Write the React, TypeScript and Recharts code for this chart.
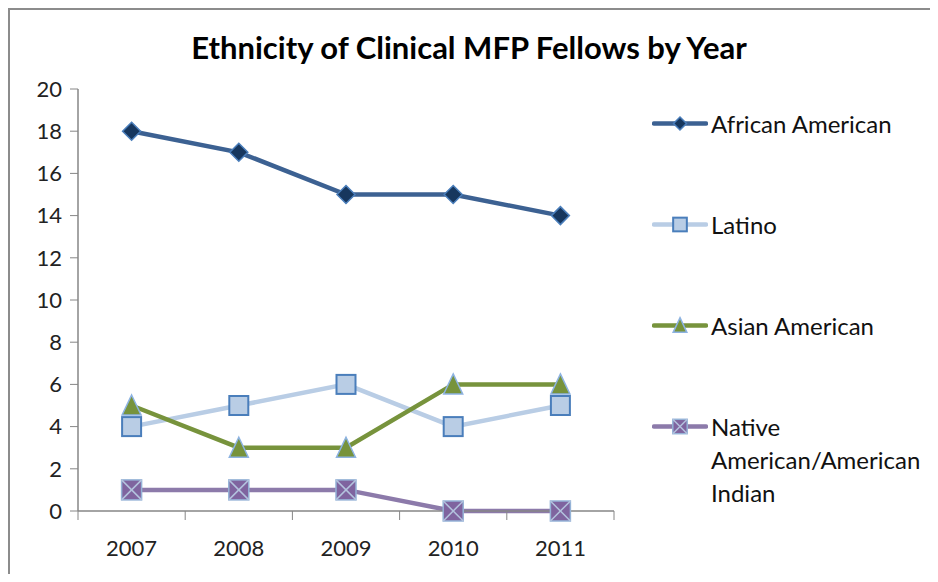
import React from 'react';
import { LineChart, Line, XAxis, YAxis, Legend } from 'recharts';

const years = ['2007', '2008', '2009', '2010', '2011'];
const africanAmerican = [18, 17, 15, 15, 14];
const latino = [4, 5, 6, 4, 5];
const asianAmerican = [5, 3, 3, 6, 6];
const nativeAmerican = [1, 1, 1, 0, 0];
const yTicks = [0, 2, 4, 6, 8, 10, 12, 14, 16, 18, 20];

const FONT = 'Lato, "Open Sans", sans-serif';
const AXIS = '#868686';

type MarkerKind = 'diamond' | 'square' | 'triangle' | 'xsquare';

const SERIES: { key: string; name: string; line: string; fill: string; edge: string; marker: MarkerKind }[] = [
  { key: 'aa', name: 'African American', line: '#3C6192', fill: '#17375E', edge: '#4A7EBB', marker: 'diamond' },
  { key: 'lat', name: 'Latino', line: '#B9CDE5', fill: '#B9CDE5', edge: '#4A7EBB', marker: 'square' },
  { key: 'asi', name: 'Asian American', line: '#77933C', fill: '#77933C', edge: '#8DB3E2', marker: 'triangle' },
  { key: 'nat', name: 'Native American/American Indian', line: '#8C7AAA', fill: '#7F649F', edge: '#95B3D7', marker: 'xsquare' },
];

const rows = years.map((y, i) => ({
  idx: i + 1,
  aa: africanAmerican[i],
  lat: latino[i],
  asi: asianAmerican[i],
  nat: nativeAmerican[i],
}));

// draws one marker shape centred on cx, cy
function drawMarker(kind: MarkerKind, cx: number, cy: number, s: number, fill: string, edge: string, key?: any) {
  const h = s / 2;
  if (kind === 'diamond') {
    return (
      <polygon key={key} points={`${cx},${cy - h} ${cx + h},${cy} ${cx},${cy + h} ${cx - h},${cy}`}
        fill={fill} stroke={edge} strokeWidth={1.5} />
    );
  }
  if (kind === 'square') {
    return <rect key={key} x={cx - h} y={cy - h} width={s} height={s} fill={fill} stroke={edge} strokeWidth={2} />;
  }
  if (kind === 'triangle') {
    return (
      <polygon key={key} points={`${cx},${cy - h - 1} ${cx + h},${cy + h} ${cx - h},${cy + h}`}
        fill={fill} stroke={edge} strokeWidth={1.5} />
    );
  }
  return (
    <g key={key}>
      <rect x={cx - h} y={cy - h} width={s} height={s} fill={fill} stroke={edge} strokeWidth={1.5} />
      <line x1={cx - h} y1={cy - h} x2={cx + h} y2={cy + h} stroke="#B3C3DE" strokeWidth={1.5} />
      <line x1={cx - h} y1={cy + h} x2={cx + h} y2={cy - h} stroke="#B3C3DE" strokeWidth={1.5} />
    </g>
  );
}

const markerSize: Record<MarkerKind, number> = { diamond: 18, square: 19, triangle: 19, xsquare: 20 };

const XTick = (props: any) => {
  const { x, y, payload } = props;
  const v = payload.value;
  if (Number.isInteger(v)) {
    return (
      <text x={x} y={y + 36} textAnchor="middle" dominantBaseline="central" fontSize={22} fill="#222" fontFamily={FONT}>
        {years[v - 1]}
      </text>
    );
  }
  return <line x1={x} x2={x} y1={y} y2={y + 9} stroke={AXIS} strokeWidth={1} />;
};

const renderLegend = () => (
  <div style={{ position: 'relative', width: 286, height: 440 }}>
    {SERIES.map((s, i) => (
      <div key={s.key} style={{ position: 'absolute', left: 0, top: 97 + 101 * i, display: 'flex', alignItems: 'flex-start' }}>
        <svg width={56} height={33} style={{ flex: 'none' }}>
          <line x1={2} x2={54} y1={16.5} y2={16.5} stroke={s.line} strokeWidth={4.5} strokeLinecap="round" />
          {drawMarker(s.marker, 28, 16.5, markerSize[s.marker] * 0.72, s.fill, s.edge)}
        </svg>
        <div style={{ marginLeft: 3, width: 225, fontFamily: FONT, fontSize: 24, lineHeight: '33px', color: '#111' }}>
          {s.name === 'Native American/American Indian' ? (
            <>Native<br />American/American<br />Indian</>
          ) : s.name}
        </div>
      </div>
    ))}
  </div>
);

export default function App() {
  return (
    <div style={{ position: 'relative', width: 928, height: 564, borderLeft: '2px solid #8c8c8c', borderTop: '2px solid #8c8c8c', background: '#fff' }}>
      <div style={{ position: 'absolute', left: 0, top: 18, width: 938, textAlign: 'center', marginLeft: -10, fontFamily: FONT, fontWeight: 700, fontSize: 31, color: '#000' }}>
        Ethnicity of Clinical MFP Fellows by Year
      </div>
      <LineChart width={928} height={564} data={rows} margin={{ top: 79, right: 324, left: 0, bottom: 0 }}>
        <XAxis dataKey="idx" type="number" domain={[0.5, 5.5]} ticks={[0.5, 1, 1.5, 2, 2.5, 3, 3.5, 4, 4.5, 5, 5.5]}
          interval={0} height={63} tickLine={false} tickSize={0} tickMargin={0} tick={<XTick />}
          axisLine={{ stroke: AXIS, strokeWidth: 1.5 }} />
        <YAxis type="number" domain={[0, 20]} ticks={yTicks} interval={0} width={68} tickSize={8} tickMargin={8}
          axisLine={{ stroke: AXIS, strokeWidth: 1.5 }} tickLine={{ stroke: AXIS }}
          tick={{ fontSize: 22, fill: '#222', fontFamily: FONT }} />
        <Legend content={renderLegend} layout="horizontal" verticalAlign="middle" align="center"
          wrapperStyle={{ left: 642, top: 0, width: 286 }} />
        {SERIES.map((s) => (
          <Line key={s.key} type="linear" dataKey={s.key} name={s.name} stroke={s.line} strokeWidth={4.5}
            isAnimationActive={false}
            dot={(p: any) => drawMarker(s.marker, p.cx, p.cy, markerSize[s.marker], s.fill, s.edge, `${s.key}-${p.index}`)}
            activeDot={false} />
        ))}
      </LineChart>
    </div>
  );
}
